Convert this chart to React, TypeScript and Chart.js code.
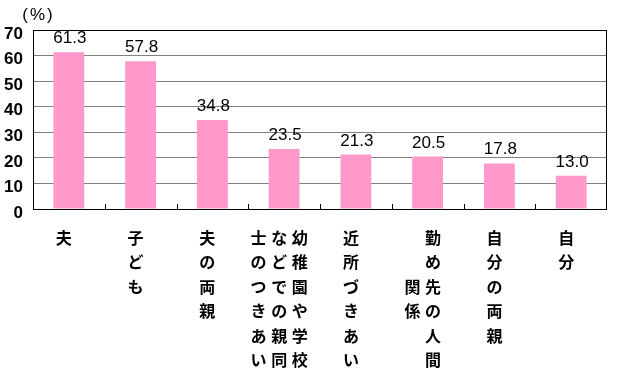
import React, { useEffect, useRef } from "react";
import { Chart, registerables } from "chart.js";

Chart.register(...registerables);

const categories = [
  "夫",
  "子ども",
  "夫の両親",
  "幼稚園や学校などでの親同士のつきあい",
  "近所づきあい",
  "勤め先の人間関係",
  "自分の両親",
  "自分",
];
// columns of vertical text, read right-to-left
const categoryColumns = [
  ["夫"],
  ["子ども"],
  ["夫の両親"],
  ["幼稚園や学校", "などでの親同", "士のつきあい"],
  ["近所づきあい"],
  ["勤め先の人間", "関係"],
  ["自分の両親"],
  ["自分"],
];
const values = [61.3, 57.8, 34.8, 23.5, 21.3, 20.5, 17.8, 13.0];
const yTicks = [0, 10, 20, 30, 40, 50, 60, 70];
const unitLabel = "(%)";

const W = 617;
const H = 379;

export default function App() {
  const ref = useRef<HTMLCanvasElement | null>(null);

  useEffect(() => {
    const canvas = ref.current;
    if (!canvas) return;

    const overlay = {
      id: "overlay",
      afterDatasetsDraw(chart: any) {
        const ctx = chart.ctx;
        const area = chart.chartArea;
        const xs = chart.scales.x;
        const meta = chart.getDatasetMeta(0);
        ctx.save();
        // frame
        ctx.strokeStyle = "#000";
        ctx.lineWidth = 1;
        ctx.strokeRect(
          Math.round(area.left) + 0.5,
          Math.round(area.top) + 0.5,
          Math.round(area.right - area.left) - 1,
          Math.round(area.bottom - area.top)
        );
        // inward tick marks at category boundaries
        ctx.beginPath();
        for (let i = 1; i < categories.length; i++) {
          const bx = Math.round((xs.getPixelForValue(i - 1) + xs.getPixelForValue(i)) / 2) + 0.5;
          ctx.moveTo(bx, area.bottom);
          ctx.lineTo(bx, area.bottom - 5);
        }
        ctx.stroke();
        // value labels
        ctx.fillStyle = "#000";
        ctx.font = "17px 'Liberation Sans', Arial, sans-serif";
        ctx.textAlign = "center";
        ctx.textBaseline = "alphabetic";
        meta.data.forEach((bar: any, i: number) => {
          ctx.fillText(values[i].toFixed(1), bar.x + 1, bar.y - 9);
        });
        // category labels, vertical
        ctx.font = "bold 16px 'Noto Sans CJK JP', sans-serif";
        ctx.textBaseline = "middle";
        const rowStep = 24.4;
        const colStep = 20.5;
        const firstRow = 238;
        categoryColumns.forEach((cols, i) => {
          const cx = xs.getPixelForValue(i) - 5;
          const maxLen = Math.max(...cols.map((c) => [...c].length));
          const n = cols.length;
          cols.forEach((col, j) => {
            const x = cx + ((n - 1) / 2 - j) * colStep;
            const chars = [...col];
            const start = n > 1 ? (maxLen - chars.length) / 2 : 0;
            chars.forEach((ch, k) => {
              ctx.fillText(ch, x, firstRow + (start + k) * rowStep);
            });
          });
        });
        // unit label
        ctx.font = "17px 'Liberation Sans', Arial, sans-serif";
        (ctx as any).letterSpacing = "2px";
        ctx.fillText(unitLabel, 38.5, 15);
        (ctx as any).letterSpacing = "0px";
        ctx.restore();
      },
    };

    const chart = new Chart(canvas, {
      type: "bar",
      data: {
        labels: categories,
        datasets: [
          {
            data: values,
            backgroundColor: "#FF99CC",
            borderWidth: 0,
            categoryPercentage: 1,
            barPercentage: 0.43,
          },
        ],
      },
      options: {
        animation: false,
        responsive: false,
        maintainAspectRatio: false,
        layout: { padding: { top: 30, right: 10, left: 0, bottom: 0 } },
        plugins: {
          legend: { display: false },
          tooltip: { enabled: false },
        },
        scales: {
          x: {
            ticks: { display: false },
            grid: { display: false },
            border: { display: false },
            afterFit: (s: any) => {
              s.height = 170;
            },
          },
          y: {
            min: 0,
            max: 70,
            afterBuildTicks: (s: any) => {
              s.ticks = yTicks.map((v) => ({ value: v }));
            },
            ticks: {
              color: "#000",
              padding: 10,
              labelOffset: 4,
              font: { family: "'Liberation Sans', Arial, sans-serif", size: 17, weight: "bold" },
            },
            grid: {
              color: "#808080",
              drawTicks: false,
              lineWidth: 1,
            },
            border: { display: false },
            afterFit: (s: any) => {
              s.width = 33;
            },
          },
        },
      },
      plugins: [overlay],
    } as any);

    return () => chart.destroy();
  }, []);

  return (
    <div style={{ position: "fixed", left: 0, top: 0, width: W, height: H, background: "#fff" }}>
      <canvas ref={ref} width={W} height={H} style={{ width: W, height: H, display: "block" }} />
    </div>
  );
}
